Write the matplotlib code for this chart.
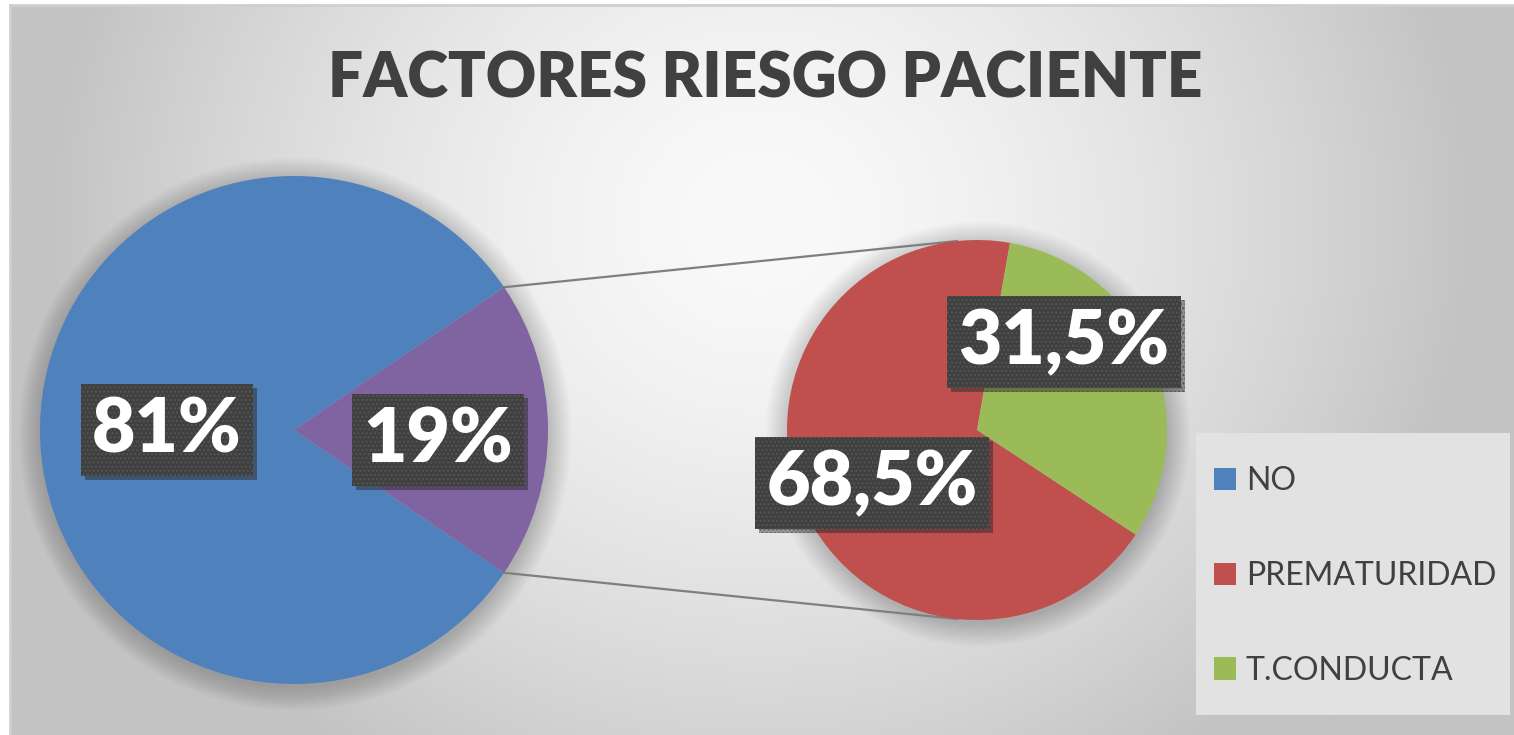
import numpy as np
import matplotlib
matplotlib.use("Agg")
import matplotlib.pyplot as plt
from matplotlib.patches import Circle, Patch, Rectangle
import matplotlib.patheffects as pe

# Data
title = "FACTORES RIESGO PACIENTE"
main_labels = ["NO", "SÍ"]
main_values = [81, 19]
sub_labels = ["PREMATURIDAD", "T.CONDUCTA"]
sub_values = [68.5, 31.5]
main_text = ["81%", "19%"]
sub_text = ["68,5%", "31,5%"]

legend_labels = ["NO", "PREMATURIDAD", "T.CONDUCTA"]
c_blue, c_purple, c_red, c_green = "#4F81BD", "#8064A2", "#C0504D", "#9BBB59"

W, H = 1514, 735
fig = plt.figure(figsize=(W / 100, H / 100), dpi=100)
ax = fig.add_axes([0, 0, 1, 1])

# background gradient (light centre, grey corners)
xx, yy = np.meshgrid(np.linspace(10, W, 400), np.linspace(H - 5, 0, 200))
t = np.sqrt(((xx - 760) / 740) ** 2 + ((yy - (H - 220)) / 680) ** 2)
shade = np.clip(250 - 58 * t ** 1.5, 195, 250) / 255
ax.imshow(np.dstack([shade] * 3), extent=[10, W, 0, H - 5], origin="upper",
          aspect="auto", zorder=0, interpolation="bilinear")
ax.plot([10, W], [H - 5, H - 5], color="#cfcfcf", lw=2, zorder=1)
ax.plot([10, 10], [0, H - 5], color="#cfcfcf", lw=2, zorder=1)

# pie geometry
c1, r1 = (294, H - 430), 254
c2, r2 = (977, H - 430), 190

# soft shadow around pies
for cen, rad in [(c1, r1), (c2, r2)]:
    for k in range(16):
        ax.add_patch(Circle((cen[0] + 1, cen[1] - 4), rad + k * 1.5,
                            fc="black", alpha=0.011, lw=0, zorder=2))

half = main_values[1] * 3.6 / 2
ax.pie(main_values, colors=[c_blue, c_purple], startangle=half,
       center=c1, radius=r1, frame=True,
       wedgeprops=dict(linewidth=0, zorder=3))
ax.pie(sub_values, colors=[c_red, c_green], counterclock=False,
       startangle=80 - sub_values[1] * 3.6, center=c2, radius=r2, frame=True,
       wedgeprops=dict(linewidth=0, zorder=3))
ax.set_xlim(0, W)
ax.set_ylim(0, H)
ax.axis("off")

# connector lines
for s in (1, -1):
    a1 = np.radians(s * half)
    a2 = np.radians(s * 96)
    ax.plot([c1[0] + r1 * np.cos(a1), c2[0] + r2 * np.cos(a2)],
            [c1[1] + r1 * np.sin(a1), c2[1] + r2 * np.sin(a2)],
            color="#7f7f7f", lw=1.6, zorder=2.5)

# data labels
label_pos = [(167, H - 430), (438, H - 440), (872, H - 483), (1064, H - 342)]
for txt, (x, y) in zip(main_text + sub_text, label_pos):
    tx = ax.text(x, y, txt, ha="center", va="center", fontsize=54,
                 fontfamily="Lato", fontweight="heavy", color="white", zorder=6,
                 bbox=dict(boxstyle="square,pad=0.15", fc="#404040",
                           ec="#555555", lw=0, hatch="...."))
    tx.get_bbox_patch().set_path_effects(
        [pe.SimplePatchShadow(offset=(3, -3), alpha=0.4), pe.Normal()])

# title
ax.text(765, H - 97, title, ha="center", va="baseline", fontsize=44.7,
        fontfamily="Lato", fontweight="heavy", color="#404040", zorder=6)

# legend box and entries
ax.add_patch(Rectangle((1196, H - 715), 314, 282, fc="#e2e2e2", lw=0, zorder=6))
handles = [Patch(fc=c, ec="none") for c in (c_blue, c_red, c_green)]
leg = ax.legend(handles, legend_labels, loc="center left",
                bbox_to_anchor=(1214 / W, 1 - 576 / H), borderaxespad=0,
                prop=dict(family="Lato", size=23), labelcolor="#404040",
                frameon=False, handlelength=0.7, handleheight=0.7,
                handletextpad=0.3, labelspacing=2.02, borderpad=0)
leg.set_zorder(7)

fig.savefig("out.png", dpi=100)
